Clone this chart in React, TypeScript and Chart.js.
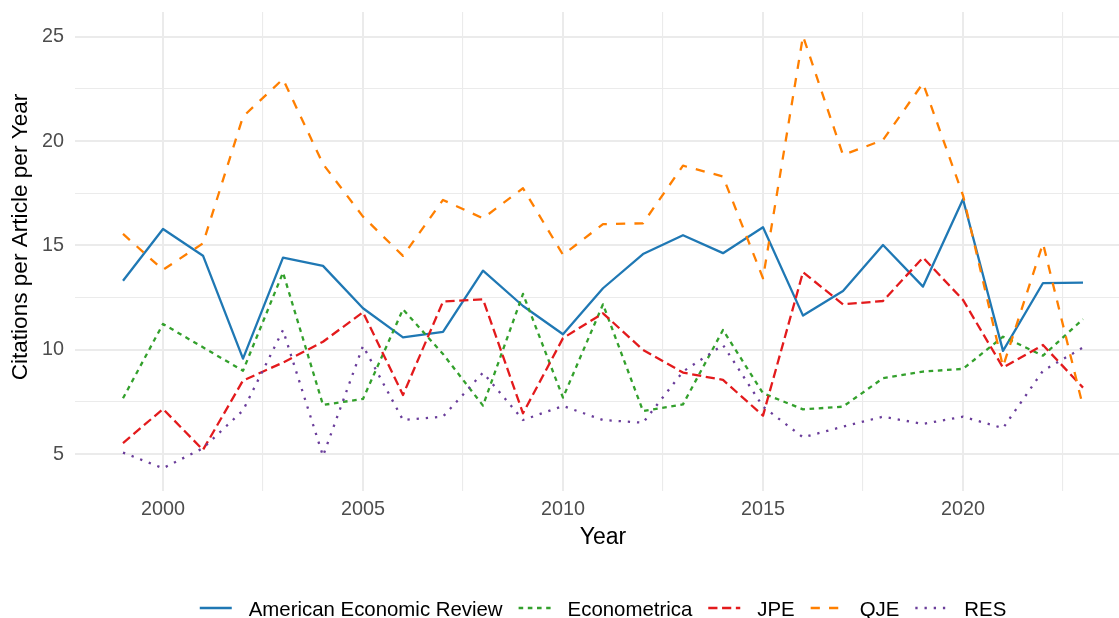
import React, { useEffect, useRef } from "react";
import { Chart, registerables } from "chart.js";

Chart.register(...registerables);

const years = [1999, 2000, 2001, 2002, 2003, 2004, 2005, 2006, 2007, 2008, 2009, 2010, 2011, 2012, 2013, 2014, 2015, 2016, 2017, 2018, 2019, 2020, 2021, 2022, 2023];

const aer = [13.31, 15.79, 14.51, 9.58, 14.42, 14.02, 11.99, 10.6, 10.86, 13.79, 12.1, 10.75, 12.95, 14.59, 15.49, 14.63, 15.87, 11.64, 12.82, 15.02, 13.03, 17.21, 9.95, 13.2, 13.22];
const econometrica = [7.68, 11.24, 10.12, 9.0, 13.7, 7.36, 7.65, 11.94, 9.8, 7.33, 12.68, 7.71, 12.18, 7.07, 7.39, 10.95, 7.92, 7.15, 7.28, 8.64, 8.96, 9.09, 10.63, 9.72, 11.47];
const jpe = [5.53, 7.17, 5.21, 8.53, 9.39, 10.39, 11.8, 7.84, 12.31, 12.42, 6.96, 10.56, 11.75, 10.0, 8.91, 8.56, 6.85, 13.72, 12.18, 12.34, 14.42, 12.39, 9.15, 10.23, 8.19];
const qje = [15.55, 13.83, 15.1, 21.17, 22.97, 18.9, 16.38, 14.5, 17.18, 16.3, 17.74, 14.55, 16.02, 16.06, 18.82, 18.3, 13.43, 25.03, 19.33, 20.05, 22.77, 17.4, 9.2, 15.1, 7.28];
const res = [5.08, 4.33, 5.29, 7.1, 10.95, 4.92, 10.19, 6.64, 6.8, 8.91, 6.64, 7.31, 6.64, 6.51, 8.96, 10.23, 7.28, 5.81, 6.32, 6.8, 6.45, 6.8, 6.25, 9.0, 10.11];

const seriesNames = ["American Economic Review", "Econometrica", "JPE", "QJE", "RES"];
const seriesColors = ["#1f78b4", "#33a02c", "#e31a1c", "#ff7f00", "#6a3d9a"];
const seriesDashes = [[], [4.6, 4.6], [9.2, 4.6], [9.2, 9.2], [2.3, 6.9]];

const xTicks = [2000, 2002.5, 2005, 2007.5, 2010, 2012.5, 2015, 2017.5, 2020, 2022.5];
const yTicks = [5, 7.5, 10, 12.5, 15, 17.5, 20, 22.5, 25];

const xTitle = "Year";
const yTitle = "Citations per Article per Year";

const FONT = '"Liberation Sans", Arial, Helvetica, sans-serif';
const W = 1132;
const H = 618;

const overlayPlugin = {
  id: "ggOverlay",
  afterDraw(chart: any) {
    const ctx = chart.ctx as CanvasRenderingContext2D;
    ctx.save();
    // y-axis title
    ctx.font = `22.6px ${FONT}`;
    ctx.fillStyle = "#000000";
    ctx.textAlign = "center";
    ctx.textBaseline = "middle";
    ctx.translate(21, 237);
    ctx.rotate(-Math.PI / 2);
    ctx.fillText(yTitle, 0, 0);
    ctx.restore();

    // legend
    ctx.save();
    ctx.font = `20.4px ${FONT}`;
    const items = chart.data.datasets.map((ds: any) => ({
      label: ds.label,
      color: ds.borderColor,
      dash: ds.borderDash || [],
    }));
    const keyW = 32;
    const gapKT = 17;
    const gapItem = 16;
    const widths = items.map((it: any) => ctx.measureText(it.label).width);
    const total =
      widths.reduce((a: number, b: number) => a + b, 0) +
      items.length * (keyW + gapKT) +
      (items.length - 1) * gapItem;
    const centerX = (chart.chartArea.left + chart.chartArea.right) / 2;
    let x = centerX - total / 2;
    const lineY = 608;
    const textY = 615.5;
    items.forEach((it: any, i: number) => {
      ctx.strokeStyle = it.color;
      ctx.lineWidth = 2.3;
      ctx.lineCap = "butt";
      ctx.setLineDash(it.dash);
      ctx.beginPath();
      ctx.moveTo(x, lineY);
      ctx.lineTo(x + keyW, lineY);
      ctx.stroke();
      ctx.setLineDash([]);
      ctx.fillStyle = "#000000";
      ctx.textAlign = "left";
      ctx.textBaseline = "alphabetic";
      ctx.fillText(it.label, x + keyW + gapKT, textY);
      x += keyW + gapKT + widths[i] + gapItem;
    });
    ctx.restore();
  },
};

export default function App() {
  const canvasRef = useRef<HTMLCanvasElement | null>(null);

  useEffect(() => {
    document.body.style.margin = "0";
    document.body.style.overflow = "hidden";
    const canvas = canvasRef.current;
    if (!canvas) return;
    const allSeries = [aer, econometrica, jpe, qje, res];
    const datasets = allSeries.map((vals, si) => ({
      label: seriesNames[si],
      data: years.map((yr, i) => ({ x: yr, y: vals[i] })),
      borderColor: seriesColors[si],
      backgroundColor: seriesColors[si],
      borderDash: seriesDashes[si],
      borderWidth: 2.3,
      borderCapStyle: "butt" as const,
      borderJoinStyle: "round" as const,
      pointRadius: 0,
      tension: 0,
      fill: false,
      order: allSeries.length - si,
    }));

    const gridWidth = (c: any) => {
      const v = c.tick ? c.tick.value : 0;
      return Math.abs(v % 5) < 1e-9 ? 2 : 1.1;
    };
    const tickFont = { family: FONT, size: 19.8 };

    const chart = new Chart(canvas, {
      type: "line",
      data: { datasets },
      options: {
        responsive: false,
        animation: false,
        devicePixelRatio: 1,
        layout: { padding: { top: 12, left: 0, right: 1, bottom: 67 } },
        plugins: {
          legend: { display: false },
          tooltip: { enabled: false },
        },
        scales: {
          x: {
            type: "linear",
            min: 1997.8,
            max: 2024.2,
            bounds: "data",
            border: { display: false },
            grid: { color: "#ebebeb", lineWidth: gridWidth, drawTicks: false },
            afterBuildTicks: (scale: any) => {
              scale.ticks = xTicks.map((v) => ({ value: v }));
            },
            ticks: {
              autoSkip: false,
              maxRotation: 0,
              minRotation: 0,
              padding: 7,
              color: "#4d4d4d",
              font: tickFont,
              callback: (v: any) => (Math.abs(Number(v) % 5) < 1e-9 ? String(v) : ""),
            },
            title: {
              display: true,
              text: xTitle,
              color: "#000000",
              font: { family: FONT, size: 23 },
              padding: { top: 0, bottom: 0 },
            },
            afterFit: (scale: any) => {
              scale.height = 60;
              scale.paddingLeft = 0;
              scale.paddingRight = 0;
            },
          },
          y: {
            type: "linear",
            min: 3.24,
            max: 26.18,
            bounds: "data",
            border: { display: false },
            grid: { color: "#ebebeb", lineWidth: gridWidth, drawTicks: false },
            afterBuildTicks: (scale: any) => {
              scale.ticks = yTicks.map((v) => ({ value: v }));
            },
            ticks: {
              autoSkip: false,
              padding: 11,
              color: "#4d4d4d",
              font: tickFont,
              callback: (v: any) => (Math.abs(Number(v) % 5) < 1e-9 ? String(v) : ""),
            },
            title: { display: false },
            afterFit: (scale: any) => {
              scale.width = 75;
              scale.paddingTop = 0;
              scale.paddingBottom = 0;
            },
          },
        },
      },
      plugins: [overlayPlugin],
    });

    return () => chart.destroy();
  }, []);

  return (
    <div style={{ position: "fixed", left: 0, top: 0, width: W, height: H, background: "#ffffff" }}>
      <canvas ref={canvasRef} width={W} height={H} style={{ display: "block", width: W, height: H }} />
    </div>
  );
}
